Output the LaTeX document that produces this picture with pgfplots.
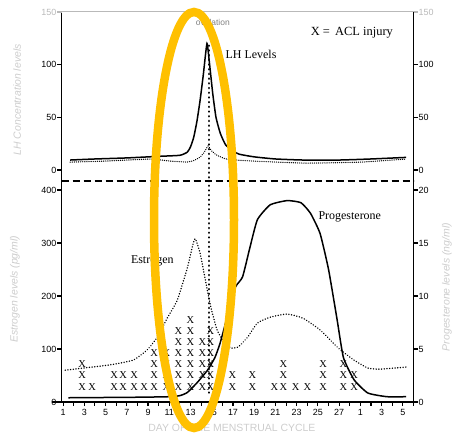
\documentclass[border=0pt]{standalone}
\usepackage{fontspec}
\setmainfont{Liberation Serif}
\setsansfont{Liberation Sans}
\usepackage{pgfplots}
\pgfplotsset{compat=1.18}

\definecolor{ringyellow}{RGB}{255,192,0}
\definecolor{faint}{RGB}{205,205,205}
\definecolor{tickgray}{RGB}{185,185,185}

\tikzset{
  lbl/.style={font=\sffamily\itshape\fontsize{10.5}{11}\selectfont, text=faint},
  dots/.style={line width=1.5bp, line cap=round, dash pattern=on 0.1bp off 2.6bp},
  fine dots/.style={line width=1.3bp, line cap=round, dash pattern=on 0.1bp off 2bp},
  ovu/.style={line width=2.5bp, line cap=round, dash pattern=on 0.1bp off 4.6bp},
  curve/.style={line width=1.5bp, black, smooth, tension=0.3},
}
\pgfplotsset{
  cycle/.style={
    scale only axis, width=352bp,
    xmin=0.85, xmax=34,
    clip=false,
    axis line style={line width=1.8bp, -},
    tick style={black, line width=1.1bp},
    major tick length=4bp, minor tick length=3.5bp,
    tick align=outside,
    /pgf/number format/assume math mode=true,
    tick label style={font=\sffamily\fontsize{9}{9}\selectfont},
    yticklabel style={inner sep=1bp},
  },
}

\begin{document}
\begin{tikzpicture}
\path[use as bounding box] (0,0) rectangle (453bp,434bp);

% ---- top panel, LH, left scale
\begin{axis}[cycle, at={(61.5bp,253bp)}, anchor=south west, height=169bp,
  ymin=-10.4, ymax=150, axis x line=none, axis y line*=left, xtick=\empty,
  ytick={0,50,100}, extra y ticks={150},
  extra y tick style={yticklabel style={text=tickgray}, tick style={tickgray}},
  ylabel={LH Concentration levels},
  every axis y label/.style={at={(rel axis cs:-0.126,0.48)}, rotate=90, anchor=center, lbl}]
\draw[tickgray, line width=1bp] (rel axis cs:0,1) -- (rel axis cs:1,1);
\draw[line width=1.4bp, dash pattern=on 7bp off 4bp] (rel axis cs:0,0) -- (rel axis cs:1,0);
\addplot[curve] coordinates {
(1.66,9.5) (4,10.5) (7,11.5) (10,13) (12.0,14) (12.7,17) (13.0,22) (13.3,31)
(13.6,46) (13.9,66) (14.2,90) (14.55,120) (14.8,100) (15.1,72) (15.4,50)
(15.8,35) (16.3,24) (17.0,18) (17.6,15) (19,12.5) (21,10.5) (23.6,9.5)
(27,9.5) (30,10.5) (33.3,12)};
\addplot[fine dots, smooth, tension=0.3] coordinates {
(1.66,7.5) (5,8.5) (9.2,10.4) (11.1,8.5) (12.67,7.6) (13.3,9) (13.9,12.3)
(14.3,17) (14.65,22.8) (15.0,18) (15.5,14) (16.4,10.4) (18,9) (20,8)
(23.6,6.6) (26,6.8) (29.2,7.6) (33.3,10.4)};
\addplot[ovu] coordinates {(14.74,118) (14.74,-10.4)};
\node[font=\sffamily\fontsize{8.5}{9}\selectfont, text=gray] at (axis cs:15.1,139.6) {ovulation};
\node[font=\fontsize{12}{12}\selectfont] at (axis cs:18.7,110) {LH Levels};
\node[font=\fontsize{12.5}{12}\selectfont] at (axis cs:28.2,130) {X =\, ACL injury};
\end{axis}

% ---- top panel, right scale
\begin{axis}[cycle, at={(61.5bp,253bp)}, anchor=south west, height=169bp,
  ymin=-10.4, ymax=150, axis x line=none, axis y line*=right, xtick=\empty,
  ytick={0,50,100}, extra y ticks={150},
  extra y tick style={yticklabel style={text=tickgray}, tick style={tickgray}}]
\end{axis}

% ---- bottom panel, estrogen, left scale
\begin{axis}[cycle, at={(61.5bp,32bp)}, anchor=south west, height=221bp,
  ymin=0, ymax=417, axis x line*=bottom, axis y line*=left,
  ytick={0,100,200,300,400},
  xtick={1,3,...,33}, xticklabels={1,3,5,7,9,11,13,15,17,19,21,23,25,27,1,3,5},
  minor xtick={2,4,...,34},
  xlabel={DAY OF THE MENSTRUAL CYCLE},
  every axis x label/.style={at={(rel axis cs:0.484,-0.118)}, anchor=center, lbl, font=\sffamily\fontsize{10.5}{11}\selectfont},
  ylabel={Estrogen levels (pg/ml)},
  every axis y label/.style={at={(rel axis cs:-0.132,0.51)}, rotate=90, anchor=center, lbl}]
\draw[line width=1.8bp] (rel axis cs:-0.027,0) -- (rel axis cs:1.01,0);
\addplot[dots, smooth, tension=0.3] coordinates {
(1.2,60) (2.9,64) (5.4,70) (7.6,79) (8.9,98) (9.9,123) (10.8,158) (11.75,192)
(12.7,253) (13.2,295) (13.45,308) (13.9,281) (14.4,230) (14.9,180) (15.5,136)
(16.1,115) (16.8,102) (17.5,104) (18.4,123) (19.3,149) (20.5,160) (22.1,166)
(23.6,158) (25.2,136) (26.8,104) (27.4,94) (28.4,79) (29.7,64) (30.9,62) (33.3,66)};
\addplot[ovu] coordinates {(14.74,417) (14.74,15)};
% ACL injuries, one X per case
\addplot[only marks, mark=text, text mark={X}, text mark as node=true,
  text mark style={font=\fontsize{10.5}{10}\selectfont, inner sep=0pt}] coordinates {
(2.79,28) (3.74,28) (5.81,28) (6.66,28) (7.70,28) (8.64,28) (9.58,28) (10.72,28)
(11.85,28) (12.98,28) (14.11,28) (14.87,28) (16.94,28) (18.83,28) (20.9,28)
(21.75,28) (22.9,28) (24.0,28) (25.5,28) (27.4,28) (28.4,28)
(2.79,50) (5.81,50) (6.66,50) (7.70,50) (9.58,50) (10.72,50) (11.85,50) (12.98,50)
(14.11,50) (14.87,50) (16.94,50) (18.83,50) (21.75,50) (25.5,50) (27.4,50) (28.4,50)
(2.79,71) (9.58,71) (10.72,71) (11.85,71) (12.98,71) (14.11,71) (14.87,71)
(21.75,71) (25.5,71) (27.4,71)
(9.58,92) (10.72,92) (11.85,92) (12.98,92) (14.11,92) (14.87,92)
(11.85,113) (12.98,113) (14.11,113) (14.87,113)
(11.85,134) (12.98,134) (14.87,134)
(12.98,155)};
\node[font=\fontsize{12}{12}\selectfont] at (axis cs:9.4,266) {Estrogen};
\end{axis}

% ---- bottom panel, progesterone, right scale
\begin{axis}[cycle, at={(61.5bp,32bp)}, anchor=south west, height=221bp,
  ymin=0, ymax=20.85, axis x line=none, axis y line*=right, xtick=\empty,
  ytick={0,5,10,15,20},
  ylabel={Progesterone levels (ng/ml)},
  every axis y label/.style={at={(rel axis cs:1.095,0.52)}, rotate=90, anchor=center, lbl}]
\addplot[curve] coordinates {
(1.5,0.4) (8,0.45) (11,0.5) (12,0.6) (12.7,0.9) (13.6,1.8) (14.6,3.0) (15.3,4.2)
(15.8,5.6) (16.5,8.2) (17.2,10.8) (17.9,11.8) (18.6,14.6) (19.3,17.2) (20.5,18.6)
(22.1,19.0) (23.4,18.8) (24.3,17.8) (25.2,15.9) (26.0,12.5) (26.8,7.8) (27.4,4.2)
(28.4,2.1) (29.7,0.85) (31.5,0.5) (33.3,0.5)};
\node[font=\fontsize{12}{12}\selectfont] at (axis cs:28.0,17.45) {Progesterone};
\end{axis}

% highlight ring round the ovulation window
\draw[ringyellow, line width=8.5bp] (194bp,214bp) ellipse [x radius=40bp, y radius=208bp];
\end{tikzpicture}
\end{document}
